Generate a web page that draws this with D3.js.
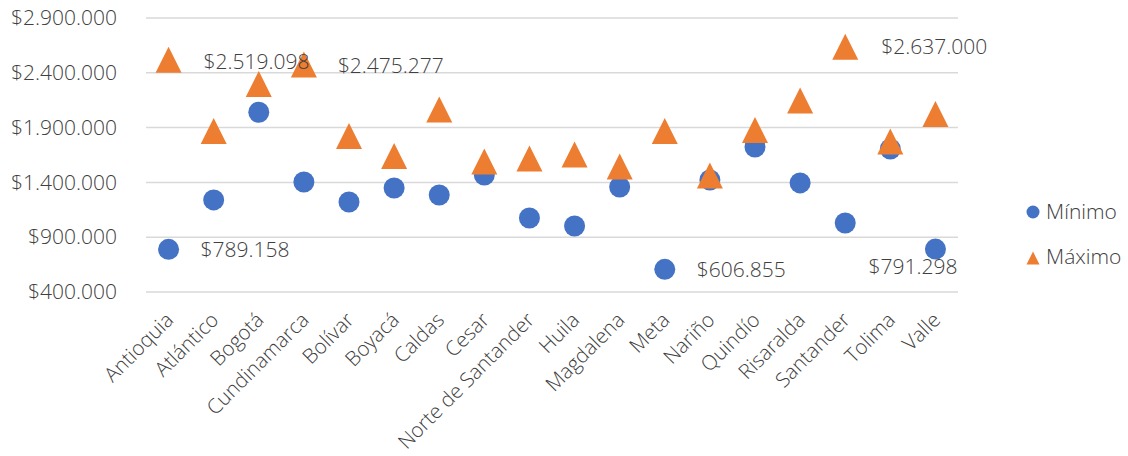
<!DOCTYPE html>
<html lang="es">
<head>
<meta charset="utf-8" />
<title>Mínimo y Máximo por departamento</title>
<script src="https://d3js.org/d3.v7.min.js"></script>
<style>
  body { margin: 0; background: #fff; }
  text { font-family: "Open Sans", sans-serif; fill: #404040; font-weight: 300; }
</style>
</head>
<body>
<div id="chart"></div>
<script>
// data
const departamentos = ["Antioquia", "Atlántico", "Bogotá", "Cundinamarca", "Bolívar", "Boyacá", "Caldas",
  "Cesar", "Norte de Santander", "Huila", "Magdalena", "Meta", "Nariño", "Quindío", "Risaralda",
  "Santander", "Tolima", "Valle"];
const minimo = [789158, 1240000, 2040000, 1404000, 1221000, 1349000, 1285000, 1467000, 1075000,
  1002000, 1358000, 606855, 1422000, 1723000, 1395000, 1030000, 1705000, 791298];
const maximo = [2519098, 1869000, 2298000, 2475277, 1823000, 1641000, 2065000, 1591000, 1618000,
  1655000, 1545000, 1869000, 1463000, 1878000, 2147000, 2637000, 1773000, 2024000];
const yTicks = [400000, 900000, 1400000, 1900000, 2400000, 2900000];

// which points get a data label, and where
const etiquetas = [
  { serie: "min", i: 0, dx: 32, dy: 0, anchor: "start" },
  { serie: "min", i: 11, dx: 32, dy: 0, anchor: "start" },
  { serie: "min", i: 17, dx: 22, dy: 18, anchor: "end" },
  { serie: "max", i: 0, dx: 35, dy: 2, anchor: "start" },
  { serie: "max", i: 3, dx: 34, dy: 1, anchor: "start" },
  { serie: "max", i: 15, dx: 36, dy: 0, anchor: "start" }
];

const W = 1128, H = 456;
const margin = { top: 18, right: 170, bottom: 164, left: 146 };
const width = W - margin.left - margin.right,
      height = H - margin.top - margin.bottom;

const svg = d3.select("#chart").append("svg")
  .attr("width", W).attr("height", H);
const g = svg.append("g")
  .attr("transform", `translate(${margin.left},${margin.top})`);

const x = d3.scaleBand().domain(departamentos).range([0, width]);
const y = d3.scaleLinear().domain([400000, 2900000]).range([height, 0]);

const fmt = v => "$" + d3.format(",")(v).replace(/,/g, ".");

// excel style triangle: as tall as it is wide
const triangulo = {
  draw(ctx, size) {
    const s = Math.sqrt(size);
    ctx.moveTo(0, -s / 2);
    ctx.lineTo(s / 2, s / 2);
    ctx.lineTo(-s / 2, s / 2);
    ctx.closePath();
  }
};

// gridlines
g.append("g").selectAll("line").data(yTicks).join("line")
  .attr("x1", 0).attr("x2", width)
  .attr("y1", d => y(d)).attr("y2", d => y(d))
  .attr("stroke", "#d9d9d9").attr("stroke-width", 1.5);

// y axis
const yAxis = g.append("g")
  .call(d3.axisLeft(y).tickValues(yTicks).tickFormat(fmt).tickSize(0).tickPadding(29));
yAxis.select(".domain").remove();
yAxis.selectAll("text").style("font-size", "21px").style("font-family", "Open Sans").attr("fill", "#404040");

// x axis
const xAxis = g.append("g")
  .attr("transform", `translate(0,${height})`)
  .call(d3.axisBottom(x).tickSize(0));
xAxis.select(".domain").remove();
xAxis.selectAll("text")
  .style("font-size", "20.5px").style("font-family", "Open Sans").attr("fill", "#404040")
  .attr("text-anchor", "end")
  .attr("dy", "0.35em")
  .attr("transform", "translate(-1,22) rotate(-45)");

const cx = d => x(d) + x.bandwidth() / 2;
const tri = d3.symbol().type(triangulo).size(26 * 26);

// Mínimo
g.append("g").selectAll("circle").data(departamentos).join("circle")
  .attr("cx", d => cx(d))
  .attr("cy", (d, i) => y(minimo[i]))
  .attr("r", 10.5)
  .attr("fill", "#4472c4");

// Máximo
g.append("g").selectAll("path").data(departamentos).join("path")
  .attr("d", tri)
  .attr("transform", (d, i) => `translate(${cx(d)},${y(maximo[i])})`)
  .attr("fill", "#ed7d31");

// data labels
g.append("g").selectAll("text").data(etiquetas).join("text")
  .attr("x", d => cx(departamentos[d.i]) + d.dx)
  .attr("y", d => y(d.serie === "min" ? minimo[d.i] : maximo[d.i]) + d.dy)
  .attr("dy", "0.35em")
  .attr("text-anchor", d => d.anchor)
  .style("font-size", "21px")
  .text(d => fmt(d.serie === "min" ? minimo[d.i] : maximo[d.i]));

// legend
const legend = svg.append("g").attr("transform", "translate(1033,0)");
legend.append("circle").attr("cx", 0).attr("cy", 212).attr("r", 6.5).attr("fill", "#4472c4");
legend.append("path").attr("d", d3.symbol().type(triangulo).size(13 * 13))
  .attr("transform", "translate(0,258)").attr("fill", "#ed7d31");
legend.append("text").attr("x", 13).attr("y", 212).attr("dy", "0.35em")
  .style("font-size", "21px").text("Mínimo");
legend.append("text").attr("x", 13).attr("y", 257).attr("dy", "0.35em")
  .style("font-size", "21px").text("Máximo");
</script>
</body>
</html>
